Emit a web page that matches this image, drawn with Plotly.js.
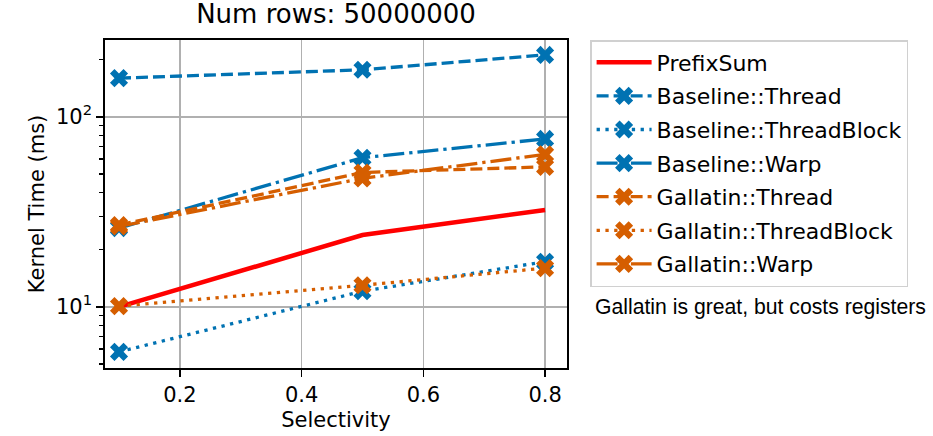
<!DOCTYPE html>
<html><head><meta charset="utf-8">
<script src="https://cdn.plot.ly/plotly-3.0.1.min.js"></script>
<style>body{margin:0;background:#fff}#c{width:933px;height:436px}</style>
</head><body><div id="c"></div>
<script>
const selectivity = [0.1, 0.5, 0.8];
const prefixSum = [10.0, 23.9, 32.4];
const baselineThread = [160, 177, 212];
const baselineThreadBlock = [5.8, 12.1, 17.3];
const baselineWarp = [26, 61, 76.6];
const gallatinThread = [27, 51, 54.6];
const gallatinThreadBlock = [10.1, 13.0, 16.0];
const gallatinWarp = [26.5, 47.5, 63.5];
const seriesNames = ["PrefixSum","Baseline::Thread","Baseline::ThreadBlock","Baseline::Warp","Gallatin::Thread","Gallatin::ThreadBlock","Gallatin::Warp"];
const yTickVals = [10, 100];
const yTickText = ["10<sup>1</sup>", "10<sup>2</sup>"];
const yMinorVals = [5,6,7,8,9,20,30,40,50,60,70,80,90,200];
const xTickVals = [0.2, 0.4, 0.6, 0.8];

const BLUE = "#0072B2", ORANGE = "#D55E00";
const DASH = {dash: "12px,5px", dot: "3.3px,5.5px", dashdot: "21px,5px,3.3px,5px", solid: "solid"};
function tr(name, y, color, dash, mk, idx) {
  return {
    x: selectivity, y: y, name: name, type: "scatter",
    mode: mk ? "lines+markers" : "lines",
    legendgroup: "g" + idx,
    line: {color: color, dash: DASH[dash], width: mk ? 3.3 : 4.5},
    marker: {symbol: "x", size: 16, color: color}
  };
}
const data = [
  tr(seriesNames[0], prefixSum, "#FF0000", "solid", false, 0),
  tr(seriesNames[1], baselineThread, BLUE, "dash", true, 1),
  tr(seriesNames[2], baselineThreadBlock, BLUE, "dot", true, 2),
  tr(seriesNames[3], baselineWarp, BLUE, "dashdot", true, 3),
  tr(seriesNames[4], gallatinThread, ORANGE, "dash", true, 4),
  tr(seriesNames[5], gallatinThreadBlock, ORANGE, "dot", true, 5),
  tr(seriesNames[6], gallatinWarp, ORANGE, "dashdot", true, 6)
];
const FONT = "DejaVu Sans, sans-serif";
const layout = {
  width: 933, height: 436,
  margin: {l: 105, r: 366, t: 40, b: 68},
  paper_bgcolor: "#fff", plot_bgcolor: "#fff",
  font: {family: FONT, size: 21, color: "#000"},
  title: {text: "Num rows: 50000000", x: 0.5, xanchor: "center", xref: "paper", y: 0.99, yanchor: "top", font: {size: 26, family: FONT, color: "#000"}},
  xaxis: {
    range: [0.077, 0.836], tickvals: xTickVals, ticktext: xTickVals.map(v => v.toFixed(1)),
    showgrid: true, gridcolor: "#b0b0b0", gridwidth: 1.6,
    showline: true, linecolor: "#000", linewidth: 1.7, mirror: true,
    ticks: "outside", ticklen: 7, tickwidth: 1.7, tickcolor: "#000", zeroline: false,
    tickfont: {size: 21},
    title: {text: "Selectivity", font: {size: 21}, standoff: 6}
  },
  yaxis: {
    type: "log", range: [Math.log10(4.77), Math.log10(254)],
    tickvals: yTickVals, ticktext: yTickText,
    showgrid: true, gridcolor: "#b0b0b0", gridwidth: 1.6,
    showline: true, linecolor: "#000", linewidth: 1.7, mirror: true,
    ticks: "outside", ticklen: 7, tickwidth: 1.7, tickcolor: "#000", zeroline: false,
    tickfont: {size: 21},
    minor: {tickvals: yMinorVals, ticks: "outside", ticklen: 4, tickwidth: 1.3, tickcolor: "#000", showgrid: false},
    title: {text: "Kernel Time (ms)", font: {size: 21}, standoff: 6}
  },
  legend: {
    x: 1.05, xanchor: "left", y: 1.0, yanchor: "top",
    bordercolor: "#d0d0d0", borderwidth: 1.5, bgcolor: "#fff",
    font: {size: 22, family: FONT, color: "#000"}, traceorder: "grouped", tracegroupgap: 2,
    itemwidth: 55
  },
  showlegend: true,
  annotations: [{
    text: "Gallatin is great, but costs registers", xref: "paper", yref: "paper",
    x: (593 - 105) / 462, y: (368 - 307) / 328, xanchor: "left", yanchor: "middle", showarrow: false,
    font: {size: 21.2, family: "Liberation Sans, Arial, sans-serif", color: "#000"}
  }]
};
Plotly.newPlot("c", data, layout, {displayModeBar: false, staticPlot: true});
</script></body></html>
